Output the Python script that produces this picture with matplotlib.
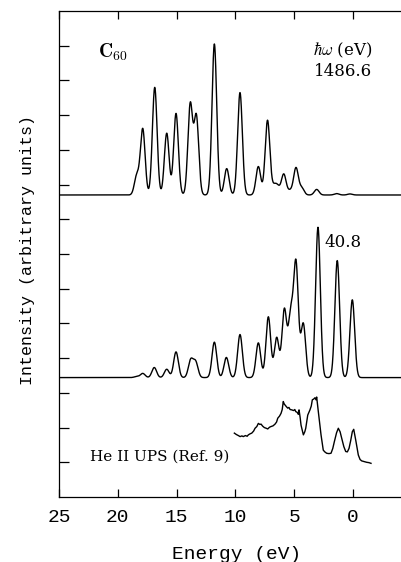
import matplotlib.pyplot as plt
import numpy as np

plt.rcParams['mathtext.fontset'] = 'cm'

# level positions (eV) and peak heights
xps_centers = [18.39, 17.88, 16.86, 15.84, 15.05, 13.84, 13.32, 11.79, 10.74, 9.61,
               8.05, 7.27, 6.72, 6.42, 5.89, 5.35, 4.85, 4.36, 3.09, 1.39, 0.26]
xps_heights = [0.55, 1.9, 3.1, 1.78, 2.35, 2.6, 2.25, 4.35, 0.76, 2.95,
               0.82, 2.15, 0.22, 0.22, 0.6, 0.12, 0.78, 0.2, 0.16, 0.04, 0.03]
xps_offset = 8.7

ups_centers = [18.4, 17.88, 16.9, 15.84, 15.05, 13.8, 13.38, 11.79, 10.77, 9.61,
               8.05, 7.2, 6.49, 5.84, 5.3, 4.85, 4.23, 2.98, 1.34, 0.06]
ups_heights = [0.03, 0.12, 0.29, 0.24, 0.74, 0.5, 0.44, 1.02, 0.58, 1.24,
               1.0, 1.75, 1.15, 1.95, 1.75, 3.25, 1.55, 4.33, 3.37, 2.24]
ups_offset = 3.44

broadening = 0.2  # gaussian width (eV)

# He II UPS experimental trace
exp_energy = [10.09, 9.92, 9.75, 9.6, 9.45, 9.33, 9.15, 9.0, 8.9, 8.75, 8.61, 8.45, 8.33,
              8.18, 8.05, 7.92, 7.82, 7.68, 7.54, 7.38, 7.25, 7.1, 6.97, 6.8, 6.63, 6.5,
              6.4, 6.25, 6.12, 6.02, 5.93, 5.85, 5.78, 5.66, 5.55, 5.45, 5.35, 5.21, 5.05,
              4.95, 4.87, 4.75, 4.65, 4.59, 4.5, 4.42, 4.3, 4.22, 4.1, 4.02, 3.85, 3.66,
              3.55, 3.46, 3.35, 3.23, 3.15, 3.09, 2.95, 2.72, 2.53, 2.4, 2.24, 2.05, 1.87,
              1.72, 1.59, 1.4, 1.25, 1.1, 0.96, 0.78, 0.62, 0.48, 0.34, 0.2, 0.06, -0.06,
              -0.23, -0.45, -0.6, -0.74, -0.95, -1.16, -1.35, -1.53]
exp_intensity = [1.84, 1.8, 1.77, 1.74, 1.76, 1.74, 1.77, 1.75, 1.79, 1.82, 1.84, 1.9,
                 1.98, 2.03, 2.12, 2.09, 2.1, 2.04, 2.0, 1.98, 1.96, 2.01, 2.03, 2.05, 2.1,
                 2.16, 2.27, 2.33, 2.41, 2.52, 2.75, 2.68, 2.65, 2.6, 2.56, 2.58, 2.52,
                 2.51, 2.49, 2.52, 2.46, 2.44, 2.38, 2.51, 2.3, 2.07, 1.9, 1.79, 1.88,
                 1.98, 2.36, 2.51, 2.62, 2.8, 2.82, 2.86, 2.8, 2.88, 2.46, 1.79, 1.35,
                 1.3, 1.26, 1.25, 1.26, 1.4, 1.59, 1.85, 1.98, 1.88, 1.69, 1.45, 1.31,
                 1.3, 1.4, 1.62, 1.88, 1.95, 1.64, 1.21, 1.08, 1.04, 1.02, 1.0, 0.99, 0.97]

energy = np.linspace(25, -4.1, 4000)


def spectrum(centers, heights):
    c = np.asarray(centers)[:, None]
    h = np.asarray(heights)[:, None]
    return (h * np.exp(-(energy - c) ** 2 / (2 * broadening ** 2))).sum(axis=0)


fig = plt.figure(figsize=(4.01, 5.62), dpi=100)
ax = fig.add_axes([59 / 401, 65 / 562, 1 - 59 / 401, 486 / 562])

ax.plot(energy, xps_offset + spectrum(xps_centers, xps_heights), color='black', lw=1.0)
ax.plot(energy, ups_offset + spectrum(ups_centers, ups_heights), color='black', lw=1.0)
ax.plot(exp_energy, exp_intensity, color='black', lw=1.0)

ax.set_xlim(25, -4.08)
ax.set_ylim(0, 14)
ax.spines['right'].set_visible(False)
for s in ['left', 'top', 'bottom']:
    ax.spines[s].set_linewidth(0.9)

ax.set_xticks([25, 20, 15, 10, 5, 0])
ax.set_yticks(np.arange(1, 14))
ax.set_yticklabels([])
ax.tick_params(axis='x', direction='in', top=True, length=6, width=0.9, pad=9,
               labelsize=14, labelfontfamily='Liberation Mono')
ax.tick_params(axis='y', direction='in', length=7, width=0.9)

ax.text(20.4, 12.82, r'$\mathbf{C}_{\mathbf{60}}$', fontsize=14, ha='center', va='center')
ax.text(0.85, 12.88, r'$\hbar\omega$ (eV)', fontsize=12, ha='center', va='center',
        family='DejaVu Serif')
ax.text(0.85, 12.25, '1486.6', fontsize=12, ha='center', va='center', family='DejaVu Serif')
ax.text(0.85, 7.33, '40.8', fontsize=12, ha='center', va='center', family='DejaVu Serif')
ax.text(22.36, 1.15, 'He II UPS (Ref. 9)', fontsize=11, ha='left', va='center',
        family='DejaVu Serif')

fig.text(237 / 401, 3 / 562, 'Energy (eV)', fontsize=14, ha='center', va='baseline',
         family='Liberation Mono')
fig.text(28 / 401, 1 - 250 / 562, 'Intensity (arbitrary units)', fontsize=12,
         rotation=90, ha='center', va='center', family='Liberation Mono')

fig.savefig('out.png', dpi=100)
